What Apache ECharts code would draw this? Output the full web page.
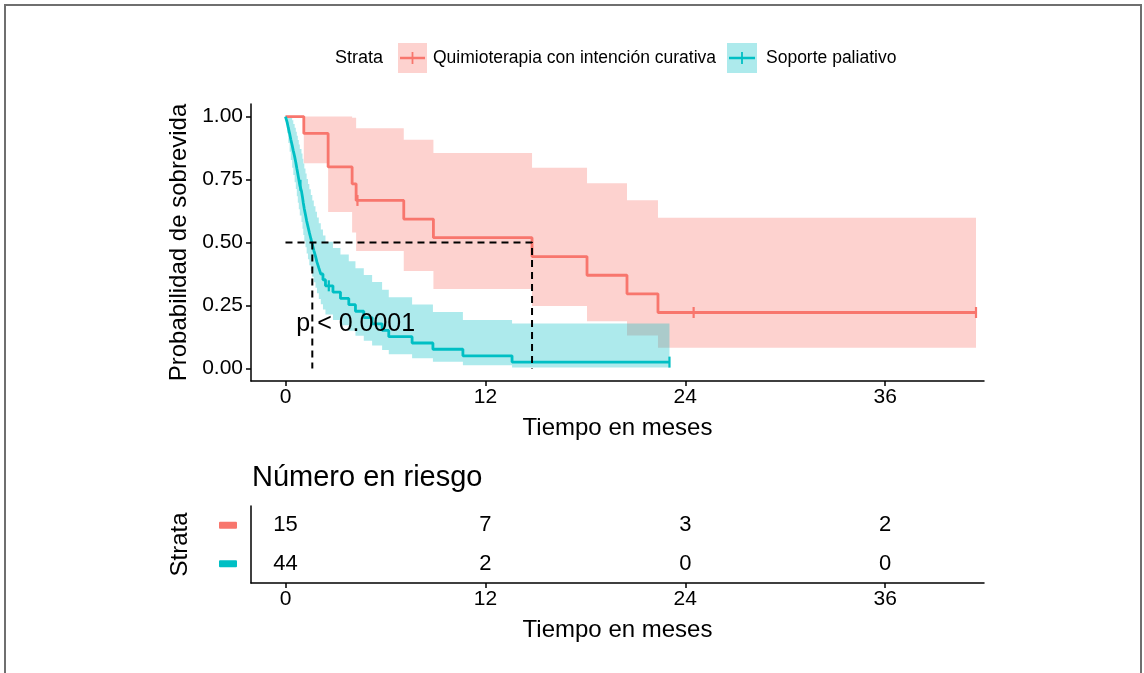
<!DOCTYPE html>
<html>
<head>
<meta charset="utf-8">
<script src="https://cdn.jsdelivr.net/npm/echarts@6/dist/echarts.min.js"></script>
<style>
html,body{margin:0;padding:0;background:#fff;}
#chart{width:1144px;height:673px;}
</style>
</head>
<body>
<div id="chart"></div>
<script>
// ---------------- DATA ----------------
const xTicks = [0, 12, 24, 36];
const yTicks = [0, 0.25, 0.5, 0.75, 1];
const strata = ['Quimioterapia con intención curativa', 'Soporte paliativo'];

// Quimioterapia con intención curativa (red)
const quimioTime  = [0, 1.10, 2.56, 4.00, 4.24, 7.10, 8.88, 14.80, 18.10, 20.50, 22.36];
const quimioSurv  = [1, 0.933, 0.800, 0.733, 0.667, 0.593, 0.519, 0.444, 0.370, 0.296, 0.222];
const quimioLower = [1, 0.815, 0.621, 0.540, 0.466, 0.387, 0.315, 0.248, 0.187, 0.131, 0.082];
const quimioUpper = [1, 1.000, 1.000, 0.995, 0.954, 0.908, 0.855, 0.797, 0.735, 0.668, 0.598];
const quimioEnd = 41.45;
const quimioCensorTime = [4.32, 24.5, 41.45];
const quimioCensorSurv = [0.667, 0.222, 0.222];
const quimioMedian = 14.80;

// Soporte paliativo (cyan)
const palTime  = [0, 0.10, 0.17, 0.25, 0.32, 0.40, 0.47, 0.55, 0.62, 0.68, 0.74, 0.80, 0.86,
                  0.96, 1.02, 1.07, 1.13, 1.20, 1.27, 1.35, 1.43, 1.52, 1.61, 1.70, 1.80, 1.89, 2.00, 2.12, 2.25, 2.40,
                  2.85, 3.30, 3.80, 4.20, 4.70, 5.20, 5.80, 6.20, 7.60, 8.85, 10.65, 13.60];
const palSurv  = [1, 0.977, 0.955, 0.932, 0.909, 0.886, 0.864, 0.841, 0.818, 0.795, 0.773, 0.750, 0.727,
                  0.704, 0.680, 0.657, 0.633, 0.610, 0.586, 0.563, 0.540, 0.516, 0.493, 0.469, 0.446, 0.422, 0.399, 0.375, 0.352, 0.328,
                  0.303, 0.278, 0.253, 0.227, 0.202, 0.177, 0.151, 0.126, 0.101, 0.076, 0.050, 0.025];
const palLower = [1, 0.934, 0.895, 0.860, 0.828, 0.797, 0.768, 0.739, 0.712, 0.684, 0.658, 0.632, 0.607,
                  0.581, 0.555, 0.530, 0.505, 0.481, 0.456, 0.433, 0.410, 0.387, 0.364, 0.342, 0.320, 0.298, 0.276, 0.255, 0.234, 0.214,
                  0.192, 0.171, 0.150, 0.130, 0.110, 0.091, 0.073, 0.056, 0.040, 0.026, 0.013, 0.004];
const palUpper = [1, 1.000, 1.000, 1.000, 0.998, 0.985, 0.971, 0.956, 0.940, 0.924, 0.907, 0.889, 0.871,
                  0.853, 0.833, 0.814, 0.794, 0.774, 0.752, 0.732, 0.711, 0.689, 0.667, 0.644, 0.622, 0.599, 0.576, 0.552, 0.528, 0.503,
                  0.478, 0.452, 0.426, 0.398, 0.371, 0.343, 0.312, 0.283, 0.254, 0.224, 0.192, 0.178];
const palEnd = 23.05;
const palCensorTime = [0.90, 2.60, 23.05];
const palCensorSurv = [0.727, 0.328, 0.025];
const palMedian = 1.61;

const pValueText = 'p < 0.0001';
const pValuePos = [0.65, 0.175];

// Number at risk
const riskTimes = [0, 12, 24, 36];
const riskQuimio = [15, 7, 3, 2];
const riskPaliativo = [44, 2, 0, 0];

// ---------------- STYLE ----------------
const RED = '#F8766D', CYAN = '#00BFC4';
const RED_FILL = 'rgba(248,118,109,0.33)', CYAN_FILL = 'rgba(0,191,196,0.32)';
const FONT = '"Liberation Sans", Arial, Helvetica, sans-serif';

function stepLine(t, s, end) {
  const d = t.map((v, i) => [v, s[i]]);
  d.push([end, s[s.length - 1]]);
  return d;
}
function bandPoints(t, lo, up, end) {
  const pts = [];
  for (let i = 0; i < t.length; i++) {
    const t1 = i + 1 < t.length ? t[i + 1] : end;
    pts.push([t[i], up[i]], [t1, up[i]]);
  }
  for (let i = t.length - 1; i >= 0; i--) {
    const t1 = i + 1 < t.length ? t[i + 1] : end;
    pts.push([t1, lo[i]], [t[i], lo[i]]);
  }
  return pts;
}
function bandSeries(pts, fill) {
  return {
    type: 'custom', xAxisIndex: 0, yAxisIndex: 0, silent: true, z: 1,
    data: [[0, 0]],
    renderItem: function (params, api) {
      return { type: 'polygon', shape: { points: pts.map(p => api.coord(p)) }, style: { fill: fill } };
    }
  };
}

const axisLineStyle = { color: '#000', width: 1.5 };
const commonX = (gi) => ({
  gridIndex: gi, type: 'value', min: -2.07, max: 41.93,
  axisLine: { show: true, onZero: false, lineStyle: axisLineStyle },
  axisTick: { show: true, length: 5, lineStyle: axisLineStyle, customValues: xTicks },
  axisLabel: { customValues: xTicks, color: '#000', fontSize: 21, fontFamily: FONT, margin: 6 },
  splitLine: { show: false },
  name: 'Tiempo en meses', nameLocation: 'middle', nameGap: 35,
  nameTextStyle: { color: '#000', fontSize: 24, fontFamily: FONT }
});

const chart = echarts.init(document.getElementById('chart'), null, { renderer: 'canvas' });
const option = {
  animation: false,
  backgroundColor: '#fff',
  textStyle: { fontFamily: FONT },
  title: {
    text: 'Número en riesgo', left: 247, top: 458,
    textStyle: { color: '#000', fontSize: 29, fontWeight: 'normal', fontFamily: FONT }
  },
  grid: [
    { left: 251, top: 104, width: 733, height: 277, containLabel: false, outerBoundsMode: 'none' },
    { left: 251, top: 506, width: 733, height: 77, containLabel: false, outerBoundsMode: 'none' }
  ],
  xAxis: [commonX(0), commonX(1)],
  yAxis: [
    {
      gridIndex: 0, type: 'value', min: -0.05, max: 1.05,
      axisLine: { show: true, onZero: false, lineStyle: axisLineStyle },
      axisTick: { show: true, length: 5, lineStyle: axisLineStyle, customValues: yTicks },
      axisLabel: { customValues: yTicks, formatter: v => v.toFixed(2), color: '#000', fontSize: 21, fontFamily: FONT, margin: 8 },
      splitLine: { show: false },
      name: 'Probabilidad de sobrevida', nameLocation: 'middle', nameGap: 59, nameRotate: 90,
      nameTextStyle: { color: '#000', fontSize: 24, fontFamily: FONT }
    },
    {
      gridIndex: 1, type: 'category', data: strata, inverse: true,
      axisLine: { show: true, onZero: false, lineStyle: axisLineStyle },
      axisTick: { show: false },
      axisLabel: {
        margin: 14,
        formatter: (v, i) => (i === 0 ? '{r| }' : '{c| }'),
        rich: {
          r: { width: 18, height: 7, backgroundColor: RED, borderRadius: 1 },
          c: { width: 18, height: 7, backgroundColor: CYAN, borderRadius: 1 }
        }
      },
      splitLine: { show: false },
      name: 'Strata', nameLocation: 'middle', nameGap: 59, nameRotate: 90,
      nameTextStyle: { color: '#000', fontSize: 24, fontFamily: FONT }
    }
  ],
  graphic: [
    { type: 'rect', shape: { x: 5, y: 5, width: 1136, height: 720 }, style: { fill: 'none', stroke: '#6f6f6f', lineWidth: 2 }, silent: true },
    { type: 'text', style: { text: 'Strata', x: 335, y: 58, fill: '#000', font: '18px ' + FONT, verticalAlign: 'middle', textVerticalAlign: 'middle' } },
    { type: 'rect', shape: { x: 398, y: 43, width: 29, height: 30 }, style: { fill: RED_FILL } },
    { type: 'line', shape: { x1: 400, y1: 58, x2: 425, y2: 58 }, style: { stroke: RED, lineWidth: 2.5 } },
    { type: 'line', shape: { x1: 412.5, y1: 52, x2: 412.5, y2: 64 }, style: { stroke: RED, lineWidth: 1.8 } },
    { type: 'text', style: { text: strata[0], x: 433, y: 58, fill: '#000', font: '17.5px ' + FONT, verticalAlign: 'middle', textVerticalAlign: 'middle' } },
    { type: 'rect', shape: { x: 727, y: 43, width: 30, height: 30 }, style: { fill: CYAN_FILL } },
    { type: 'line', shape: { x1: 729, y1: 58, x2: 755, y2: 58 }, style: { stroke: CYAN, lineWidth: 2.5 } },
    { type: 'line', shape: { x1: 742, y1: 52, x2: 742, y2: 64 }, style: { stroke: CYAN, lineWidth: 1.8 } },
    { type: 'text', style: { text: strata[1], x: 766, y: 58, fill: '#000', font: '17.5px ' + FONT, verticalAlign: 'middle', textVerticalAlign: 'middle' } }
  ],
  series: [
    bandSeries(bandPoints(quimioTime, quimioLower, quimioUpper, quimioEnd), RED_FILL),
    bandSeries(bandPoints(palTime, palLower, palUpper, palEnd), CYAN_FILL),
    {
      type: 'line', name: strata[0], xAxisIndex: 0, yAxisIndex: 0, step: 'end', symbol: 'none', z: 3,
      data: stepLine(quimioTime, quimioSurv, quimioEnd), lineStyle: { color: RED, width: 2.8 }
    },
    {
      type: 'line', name: strata[1], xAxisIndex: 0, yAxisIndex: 0, step: 'end', symbol: 'none', z: 3,
      data: stepLine(palTime, palSurv, palEnd), lineStyle: { color: CYAN, width: 2.8 }
    },
    {
      type: 'scatter', xAxisIndex: 0, yAxisIndex: 0, symbol: 'rect', symbolSize: [2.2, 11], z: 4,
      data: quimioCensorTime.map((t, i) => [t, quimioCensorSurv[i]]), itemStyle: { color: RED, opacity: 1 }
    },
    {
      type: 'scatter', xAxisIndex: 0, yAxisIndex: 0, symbol: 'rect', symbolSize: [2.2, 11], z: 4,
      data: palCensorTime.map((t, i) => [t, palCensorSurv[i]]), itemStyle: { color: CYAN, opacity: 1 }
    },
    {
      type: 'line', xAxisIndex: 0, yAxisIndex: 0, symbol: 'none', z: 5,
      data: [[0, 0.5], [quimioMedian, 0.5], [quimioMedian, 0]],
      lineStyle: { color: '#000', width: 2, type: [7, 5] }
    },
    {
      type: 'line', xAxisIndex: 0, yAxisIndex: 0, symbol: 'none', z: 5,
      data: [[palMedian, 0.5], [palMedian, 0]],
      lineStyle: { color: '#000', width: 2, type: [7, 5] }
    },
    {
      type: 'scatter', xAxisIndex: 0, yAxisIndex: 0, symbolSize: 0, z: 6,
      itemStyle: { color: '#000', opacity: 1 },
      data: [pValuePos],
      label: { show: true, position: 'right', distance: 0, formatter: pValueText, color: '#000', opacity: 1, textBorderWidth: 0, fontSize: 25, fontFamily: FONT }
    },
    {
      type: 'scatter', xAxisIndex: 1, yAxisIndex: 1, symbolSize: 0,
      itemStyle: { color: '#000', opacity: 1 },
      data: riskTimes.map((t, i) => [t, 0, riskQuimio[i]]).concat(riskTimes.map((t, i) => [t, 1, riskPaliativo[i]])),
      label: { show: true, position: 'inside', formatter: p => String(p.value[2]), color: '#000', opacity: 1, textBorderWidth: 0, fontSize: 22, fontFamily: FONT }
    }
  ]
};
chart.setOption(option);
</script>
</body>
</html>
